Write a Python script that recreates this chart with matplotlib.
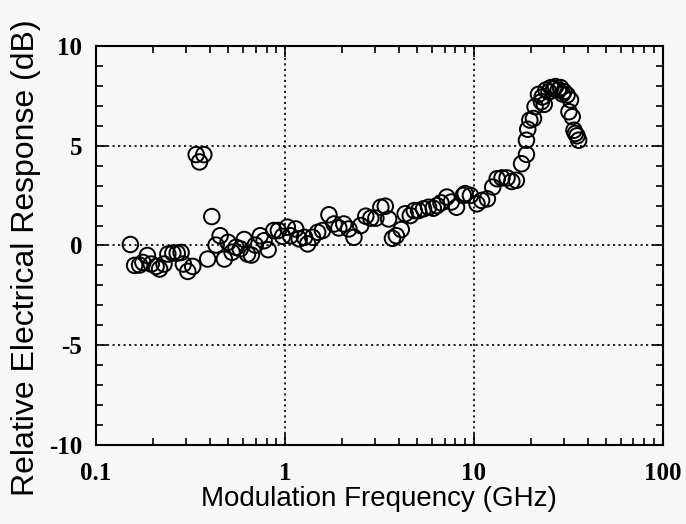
import matplotlib.pyplot as plt
from matplotlib.ticker import FixedLocator, LogLocator, NullFormatter, FixedFormatter

# modulation frequency (GHz) and relative response (dB)
freq_ghz = [0.152, 0.160, 0.170, 0.177, 0.187, 0.196, 0.208, 0.217, 0.229, 0.240,
            0.255, 0.269, 0.282, 0.290, 0.306, 0.325, 0.339, 0.353, 0.372, 0.390,
            0.410, 0.432, 0.454, 0.478, 0.500, 0.525, 0.551, 0.580, 0.609, 0.634,
            0.664, 0.697, 0.740, 0.776, 0.815, 0.873, 0.923, 0.972, 1.03, 1.07,
            1.14, 1.19, 1.27, 1.32, 1.40, 1.49, 1.58, 1.71, 1.82, 1.93,
            2.05, 2.18, 2.32, 2.52, 2.68, 2.85, 3.03, 3.22, 3.40, 3.54,
            3.71, 3.89, 4.13, 4.33, 4.61, 4.84, 5.10, 5.42, 5.76, 6.10,
            6.38, 6.70, 7.20, 7.60, 8.10, 8.80, 9.00, 9.60, 10.4, 11.0,
            11.8, 12.6, 13.3, 14.1, 15.0, 15.9, 16.8, 17.9, 19.0, 19.0,
            19.3, 19.8, 20.7, 21.1, 22.0, 22.8, 23.0, 23.6, 24.1, 25.0,
            25.6, 26.5, 27.1, 28.0, 28.8, 29.5, 30.0, 31.2, 31.9, 32.5,
            33.2, 33.9, 34.5, 35.2, 35.9]
response_db = [0.05, -1.00, -0.98, -0.85, -0.50, -0.93, -1.05, -1.18, -0.93, -0.43,
               -0.38, -0.38, -0.35, -0.93, -1.30, -1.05, 4.56, 4.19, 4.56, -0.68,
               1.45, 0.02, 0.49, -0.68, 0.16, -0.34, -0.09, -0.17, 0.30, -0.43,
               -0.48, 0.02, 0.49, 0.24, -0.21, 0.75, 0.75, 0.46, 0.92, 0.49,
               0.83, 0.33, 0.41, 0.08, 0.41, 0.66, 0.75, 1.54, 1.08, 0.88,
               1.08, 0.83, 0.41, 1.00, 1.47, 1.37, 1.37, 1.92, 1.97, 1.33,
               0.36, 0.49, 0.80, 1.59, 1.50, 1.75, 1.75, 1.84, 1.92, 1.87,
               2.00, 2.14, 2.43, 2.18, 1.92, 2.51, 2.60, 2.51, 2.09, 2.26,
               2.34, 2.93, 3.35, 3.39, 3.39, 3.21, 3.27, 4.10, 4.57, 5.28,
               5.83, 6.29, 6.37, 6.96, 7.58, 7.21, 7.45, 7.08, 7.80, 7.70,
               7.92, 7.85, 7.97, 7.80, 7.92, 7.60, 7.72, 7.55, 6.71, 7.30,
               6.46, 5.78, 5.62, 5.50, 5.28]

x_ticks = [0.1, 1, 10, 100]
x_tick_labels = ['0.1', '1', '10', '100']
y_ticks = [-10, -5, 0, 5, 10]
y_tick_labels = ['-10', '-5', '0', '5', '10']

fig = plt.figure(figsize=(6.86, 5.24), dpi=100)
ax = fig.add_axes([0.140, 0.151, 0.826, 0.761])

ax.scatter(freq_ghz, response_db, s=125, facecolors='none', edgecolors='black',
           linewidths=1.4, zorder=3)

ax.set_xscale('log')
ax.set_xlim(0.1, 100)
ax.set_ylim(-10, 10)

ax.xaxis.set_major_locator(FixedLocator(x_ticks))
ax.xaxis.set_major_formatter(FixedFormatter(x_tick_labels))
ax.xaxis.set_minor_locator(LogLocator(base=10, subs=range(2, 10)))
ax.xaxis.set_minor_formatter(NullFormatter())
ax.yaxis.set_major_locator(FixedLocator(y_ticks))
ax.yaxis.set_major_formatter(FixedFormatter(y_tick_labels))
ax.yaxis.set_minor_locator(FixedLocator(range(-10, 11)))

# dotted grid at major ticks
ax.grid(True, which='major', linestyle=(0, (1.3, 2.0)), color='black', linewidth=1.2)

ax.tick_params(which='both', direction='in', top=True, right=True, width=1.2)
ax.tick_params(which='major', length=8)
ax.tick_params(which='minor', length=5)
ax.tick_params(axis='x', which='major', pad=12)
ax.tick_params(axis='y', which='major', pad=10)
for spine in ax.spines.values():
    spine.set_linewidth(1.5)

for lab in ax.get_xticklabels() + ax.get_yticklabels():
    lab.set_family('Liberation Serif')
    lab.set_weight('bold')
    lab.set_fontsize(18)

ax.set_xlabel('Modulation Frequency (GHz)', family='Liberation Sans', fontsize=20, labelpad=1)
ax.set_ylabel('Relative Electrical Response (dB)', family='Liberation Sans', fontsize=23)
ax.yaxis.set_label_coords(-0.097, 0.47)

fig.patch.set_facecolor('#f7f7f7')
ax.set_facecolor('#f7f7f7')

fig.savefig('out.png', dpi=100, facecolor=fig.get_facecolor())
